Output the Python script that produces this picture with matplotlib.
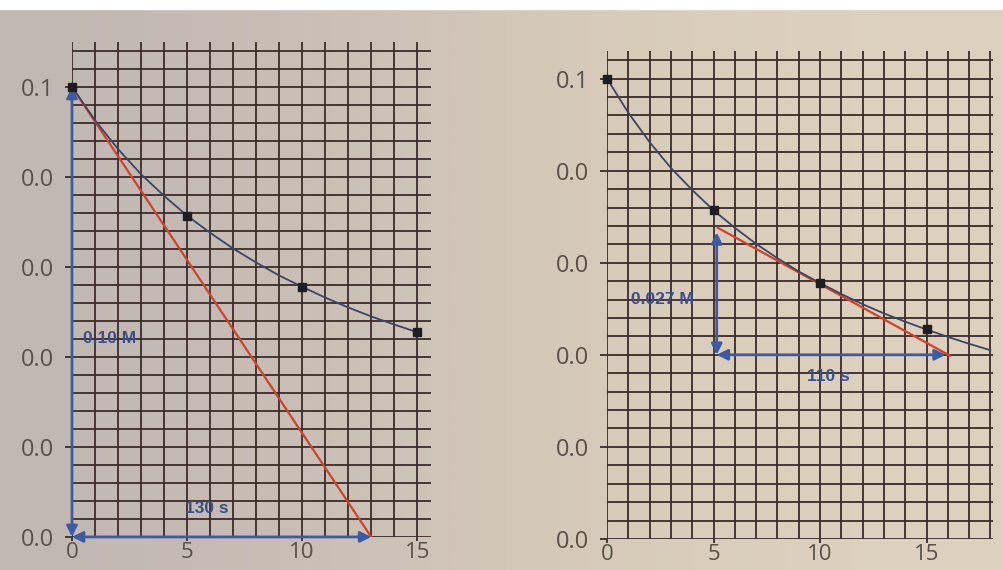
import numpy as np
import matplotlib
matplotlib.use('Agg')
import matplotlib.pyplot as plt

# measured points (time in units of 10 s, concentration in M)
t_points = [0, 5, 10, 15]
conc_points = [0.100, 0.0714, 0.0556, 0.0455]

# smooth curve
t_curve = [0, 1, 2, 3, 4, 5, 6, 7, 8, 9, 10, 11, 12, 13, 14, 15, 16, 17, 18]
conc_curve = [0.1000, 0.0926, 0.0862, 0.0806, 0.0758, 0.0714, 0.0676, 0.0641,
              0.0610, 0.0581, 0.0556, 0.0532, 0.0510, 0.0490, 0.0472, 0.0455,
              0.0439, 0.0424, 0.0410]

# tangent lines (red)
tan0_t = [0, 13]
tan0_c = [0.100, 0.0]
tan5_t = [5.2, 16.1]
tan5_c = [0.0676, 0.0398]

# annotation arrows
arrow0_v = (0, 0.100, 0.0)       # x, y top, y bottom
arrow0_h = (0.0, 0, 13)          # y, x start, x end
arrow5_v = (5.15, 0.0666, 0.040)
arrow5_h = (0.040, 5.15, 15.9)

ytick_vals = [0, 0.02, 0.04, 0.06, 0.08, 0.10]
ytick_labels = ['0.0', '0.0', '0.0', '0.0', '0.0', '0.1']
xtick_vals = [0, 5, 10, 15]
xtick_labels = ['0', '5', '10', '15']

grid_col = '#3b2c2a'
blue = '#3d5aa3'
text_blue = '#3b4f8c'
label_col = '#58504a'

fig = plt.figure(figsize=(10.04, 5.70), dpi=100)
fig.patch.set_facecolor('#cdc3b9')

# paper background: greyer on the left, creamier on the right
bg = fig.add_axes([0, 0, 1, 1], zorder=-10)
grad = np.array([[[0.76, 0.72, 0.70], [0.80, 0.76, 0.72], [0.85, 0.80, 0.73], [0.87, 0.82, 0.75]]])
bg.imshow(grad, aspect='auto', extent=[0, 1, 0, 1], interpolation='bicubic')
bg.axhspan(0.984, 1.0, color='white')
bg.set_xlim(0, 1)
bg.set_ylim(0, 1)
bg.axis('off')


def setup(ax, xmax, ymax, ngrid_x):
    ax.set_xlim(0, xmax)
    ax.set_ylim(0, ymax)
    ax.set_facecolor('none')
    for s in ax.spines.values():
        s.set_visible(False)
    ax.set_xticks(xtick_vals)
    ax.set_xticklabels(xtick_labels)
    ax.set_yticks(ytick_vals)
    ax.set_yticklabels(ytick_labels)
    ax.set_xticks(np.arange(0, ngrid_x + 1), minor=True)
    ax.set_yticks(np.arange(0, ymax, 0.004), minor=True)
    ax.grid(True, which='both', color=grid_col, linewidth=1.3)
    ax.set_axisbelow(True)
    ax.tick_params(axis='y', which='major', length=5, width=1.3, color=grid_col,
                   pad=8, labelsize=17, labelcolor=label_col)
    ax.tick_params(axis='x', which='major', length=3, width=1.3, color=grid_col,
                   pad=1, labelsize=16, labelcolor=label_col)
    ax.tick_params(which='minor', length=0)
    for lab in ax.get_xticklabels() + ax.get_yticklabels():
        lab.set_family(['Open Sans', 'DejaVu Sans'])


def double_arrow(ax, x0, y0, x1, y1):
    ax.annotate('', xy=(x1, y1), xytext=(x0, y0),
                arrowprops=dict(arrowstyle='<|-|>', color=blue, lw=2.0,
                                mutation_scale=16, shrinkA=0, shrinkB=0),
                zorder=4)


def note(ax, x, y, s):
    ax.text(x, y, s, color=text_blue, fontsize=12.5, fontweight='bold',
            family=['Liberation Sans', 'DejaVu Sans'],
            ha='center', va='center', zorder=6)


# left panel: tangent at t = 0
ax1 = fig.add_axes([0.0717, 0.0580, 0.3576, 0.8684])
setup(ax1, 15.6, 0.110, 15)
ax1.plot(tan0_t, tan0_c, color='#d0432c', lw=1.6, zorder=3)
ax1.plot(t_curve[:16], conc_curve[:16], color='#3c4660', lw=1.3, zorder=3)
ax1.plot(t_points, conc_points, 's', color='#1e1e22', ms=6, zorder=5, clip_on=False)
double_arrow(ax1, arrow0_v[0], arrow0_v[1], arrow0_v[0], arrow0_v[2])
double_arrow(ax1, arrow0_h[1], arrow0_h[0], arrow0_h[2], arrow0_h[0])
note(ax1, 1.65, 0.044, '0.10 M')
note(ax1, 5.85, 0.0064, '130 s')

# right panel: tangent at t = 5
ax2 = fig.add_axes([0.6046, 0.0545, 0.384, 0.856])
setup(ax2, 18.1, 0.106, 18)
ax2.plot(tan5_t, tan5_c, color='#d0432c', lw=1.6, zorder=3)
ax2.plot(t_curve, conc_curve, color='#3c4660', lw=1.3, zorder=3)
ax2.plot(t_points, conc_points, 's', color='#1e1e22', ms=6, zorder=5, clip_on=False)
double_arrow(ax2, arrow5_v[0], arrow5_v[1], arrow5_v[0], arrow5_v[2])
double_arrow(ax2, arrow5_h[1], arrow5_h[0], arrow5_h[2], arrow5_h[0])
note(ax2, 2.6, 0.052, '0.027 M')
note(ax2, 10.4, 0.0353, '110 s')

fig.savefig('out.png', dpi=100, facecolor=fig.get_facecolor())
